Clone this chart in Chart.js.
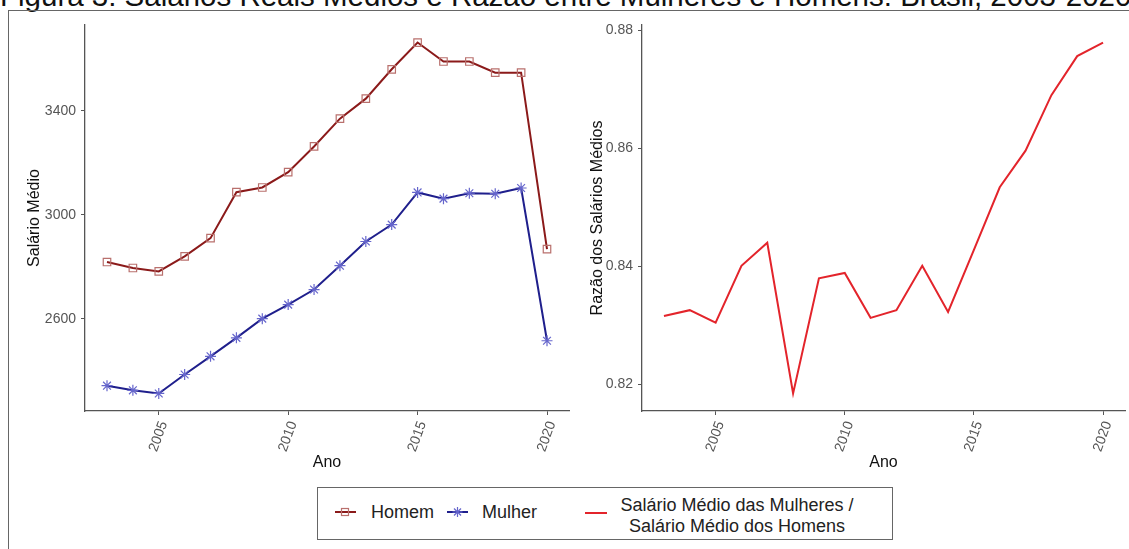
<!DOCTYPE html>
<html>
<head>
<meta charset="utf-8">
<script src="https://cdn.jsdelivr.net/npm/chart.js@4/dist/chart.umd.min.js"></script>
<style>
  html, body { margin: 0; padding: 0; background: #fff; width: 1129px; height: 549px; overflow: hidden;
    font-family: "Liberation Sans", Arial, sans-serif; }
  #titulo { position: absolute; left: 0; top: -19px; font-size: 29.5px; line-height: 1; white-space: nowrap; color: #111; }
  #moldura { position: absolute; left: 8px; top: 10px; width: 1200px; height: 600px;
    border-left: 1.5px solid #666; border-top: 1.5px solid #666; }
  .painel { position: absolute; left: 0; top: 0; width: 1129px; height: 549px; }
  #legenda { position: absolute; left: 317px; top: 487px; width: 574px; height: 51px;
    border: 1.5px solid #666; background: #fff; }
  .leg-txt { position: absolute; font-size: 18px; line-height: 1; color: #222; white-space: nowrap; }
  #leg-icones { position: absolute; left: 0; top: 0; }
</style>
</head>
<body>
<div id="titulo">Figura 3: Salários Reais Médios e Razão entre Mulheres e Homens: Brasil, 2003-2020</div>
<div id="moldura"></div>
<div class="painel"><canvas id="graficoSalarios" width="1129" height="549"></canvas></div>
<div class="painel"><canvas id="graficoRazao" width="1129" height="549"></canvas></div>

<div id="legenda"></div>
<svg id="leg-icones" width="1129" height="549">
  <line x1="335" y1="512" x2="356" y2="512" stroke="#8b1a1a" stroke-width="2"/>
  <rect x="341.5" y="508.5" width="7" height="7" fill="none" stroke="#b9706d" stroke-width="1.2"/>
  <line x1="447" y1="512" x2="468" y2="512" stroke="#1f1f8c" stroke-width="2"/>
  <g stroke="#6666cc" stroke-width="1.2">
    <line x1="457.5" y1="507" x2="457.5" y2="517"/>
    <line x1="452.5" y1="512" x2="462.5" y2="512"/>
    <line x1="454" y1="508.5" x2="461" y2="515.5"/>
    <line x1="454" y1="515.5" x2="461" y2="508.5"/>
  </g>
  <line x1="585" y1="513" x2="607" y2="513" stroke="#e3242b" stroke-width="2"/>
</svg>
<div class="leg-txt" style="left:371px; top:503px;">Homem</div>
<div class="leg-txt" style="left:482px; top:503px;">Mulher</div>
<div class="leg-txt" style="left:617px; top:496px; width:240px; text-align:center;">Salário Médio das Mulheres /</div>
<div class="leg-txt" style="left:617px; top:517px; width:240px; text-align:center;">Salário Médio dos Homens</div>

<script>
// Série anual 2003-2020
const anos = [2003, 2004, 2005, 2006, 2007, 2008, 2009, 2010, 2011, 2012,
              2013, 2014, 2015, 2016, 2017, 2018, 2019, 2020];
const salarioHomem = [2818, 2795, 2782, 2840, 2910, 3087, 3105, 3164, 3263, 3370,
                      3447, 3560, 3663, 3590, 3590, 3547, 3547, 2868];
const salarioMulher = [2342, 2324, 2312, 2385, 2455, 2526, 2600, 2654, 2712, 2804,
                       2897, 2962, 3086, 3062, 3083, 3081, 3103, 2515];
const razaoSalarios = [0.8316, 0.8326, 0.8305, 0.8401, 0.8440, 0.8185, 0.8380, 0.8389, 0.8313, 0.8326,
                       0.8401, 0.8323, 0.8428, 0.8534, 0.8596, 0.8690, 0.8756, 0.8779];

// Marcas dos eixos
const ticksAno = [2005, 2010, 2015, 2020];
const ticksSalario = [2600, 3000, 3400];
const ticksRazao = [0.82, 0.84, 0.86, 0.88];

const pares = (ys) => anos.map((a, i) => ({ x: a, y: ys[i] }));

// Expansão de 5% em torno dos dados, como nos gráficos do ggplot
function faixa(vals) {
  const lo = Math.min(...vals), hi = Math.max(...vals), d = (hi - lo) * 0.05;
  return { min: lo - d, max: hi + d };
}
const faixaAno = faixa(anos);
const faixaSalario = faixa(salarioHomem.concat(salarioMulher));
const faixaRazao = faixa(razaoSalarios);

const corEixo = '#555';
const fonteTick = { family: '"Liberation Sans", Arial, sans-serif', size: 14 };
const fonteTitulo = { family: '"Liberation Sans", Arial, sans-serif', size: 16 };

function eixoX() {
  return {
    type: 'linear',
    min: faixaAno.min, max: faixaAno.max,
    afterBuildTicks: (s) => { s.ticks = ticksAno.map(v => ({ value: v })); },
    afterFit: (s) => { s.height = 61.6; },
    ticks: { color: corEixo, font: fonteTick, minRotation: 70, maxRotation: 70,
             padding: 4, labelOffset: 5, autoSkip: false, callback: (v) => String(v) },
    grid: { display: true, drawOnChartArea: false, drawTicks: true, tickLength: 4, color: corEixo, lineWidth: 1 },
    border: { display: true, color: corEixo, width: 1.3 },
    title: { display: true, text: 'Ano', color: '#111', font: fonteTitulo, padding: 0 }
  };
}

function eixoY(range, ticks, fmt, titulo, largura) {
  return {
    type: 'linear',
    min: range.min, max: range.max,
    afterBuildTicks: (s) => { s.ticks = ticks.map(v => ({ value: v })); },
    afterFit: (s) => { s.width = largura; },
    ticks: { color: corEixo, font: fonteTick, padding: 5, callback: fmt },
    grid: { display: true, drawOnChartArea: false, drawTicks: true, tickLength: 4, color: corEixo, lineWidth: 1 },
    border: { display: true, color: corEixo, width: 1.3 },
    title: { display: true, text: titulo, color: '#111', font: fonteTitulo, padding: 0 }
  };
}

const base = {
  responsive: false,
  animation: false,
  devicePixelRatio: 1,
  plugins: { legend: { display: false }, tooltip: { enabled: false } },
  elements: { line: { tension: 0 } }
};

// Painel esquerdo: salários médios por sexo
new Chart(document.getElementById('graficoSalarios'), {
  type: 'line',
  data: {
    datasets: [
      { label: 'Homem', data: pares(salarioHomem), borderColor: '#8b1a1a', borderWidth: 2,
        pointStyle: 'rect', pointRadius: 5.3, pointBorderColor: '#b9706d', pointBackgroundColor: 'rgba(0,0,0,0)',
        pointBorderWidth: 1.2 },
      { label: 'Mulher', data: pares(salarioMulher), borderColor: '#1f1f8c', borderWidth: 2,
        pointStyle: 'star', pointRadius: 5.5, pointBorderColor: '#6666cc', pointBackgroundColor: 'rgba(0,0,0,0)',
        pointBorderWidth: 1.2 }
    ]
  },
  options: Object.assign({}, base, {
    layout: { padding: { left: 25, top: 25, right: 560, bottom: 76.4 } },
    scales: {
      x: eixoX(),
      y: eixoY(faixaSalario, ticksSalario, (v) => String(v), 'Salário Médio', 60)
    }
  })
});

// Painel direito: razão entre os salários médios
new Chart(document.getElementById('graficoRazao'), {
  type: 'line',
  data: {
    datasets: [
      { label: 'Salário Médio das Mulheres / Salário Médio dos Homens', data: pares(razaoSalarios),
        borderColor: '#e3242b', borderWidth: 2, pointRadius: 0 }
    ]
  },
  options: Object.assign({}, base, {
    layout: { padding: { left: 588.4, top: 25, right: 4, bottom: 76.4 } },
    scales: {
      x: eixoX(),
      y: eixoY(faixaRazao, ticksRazao, (v) => v.toFixed(2), 'Razão dos Salários Médios', 53.6)
    }
  })
});
</script>
</body>
</html>
